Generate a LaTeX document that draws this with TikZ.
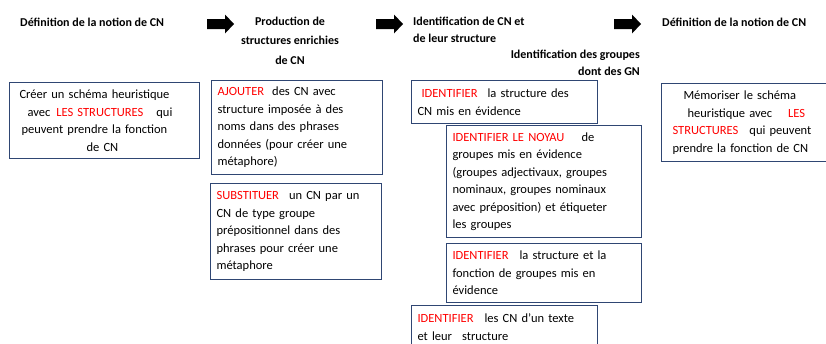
\documentclass[tikz,border=0pt]{standalone}
\usepackage{fontspec}
\setmainfont{Carlito}
\definecolor{boxblue}{RGB}{47,70,115}
\newcommand\redt[1]{\textcolor{red}{#1}}
\begin{document}
\begin{tikzpicture}[x=1pt,y=-1pt,
  box/.style={draw=boxblue, line width=1.1pt, anchor=north west, inner xsep=6pt, inner ysep=0pt, align=left,
    font=\fontsize{12.5}{17.5}\selectfont},
  head/.style={font=\bfseries\fontsize{12}{17}\selectfont, inner sep=0pt},
  blockarrow/.pic={\fill[black] (0,-5)--(18,-5)--(18,-9.5)--(27,0)--(18,9.5)--(18,5)--(0,5)--cycle;}]
\useasboundingbox (0,0) rectangle (826,343);

% headings
\node[head, anchor=base west] (h1) at (20,26) {Définition de la notion de CN};
\node[head, align=center, anchor=north, font=\bfseries\fontsize{12}{19.5}\selectfont] (h2) at (290,16.5) {Production de\\structures enrichies\\de CN};
\node[head, align=left, anchor=north west] (h3) at (413,16.5) {Identification de CN et\\de leur structure};
\node[head, align=right, anchor=north east] (h4) at (640,50) {Identification des groupes\\dont des GN};
\node[head, anchor=base west] (h5) at (662,26) {Définition de la notion de CN};

% arrows
\pic (a1) at (207,24) {blockarrow};
\pic (a2) at (376,24) {blockarrow};
\pic (a3) at (614,24) {blockarrow};

% boxes
\node[box, minimum width=190pt, minimum height=76pt, text width=178pt] (b1) at (9,82) {%
\hspace*{4pt}Créer un schéma heuristique\\
\hspace*{12pt}avec\hspace{6pt}\redt{LES STRUCTURES}\hspace{13pt}qui\\
\hspace*{6pt}peuvent prendre la fonction\\
\hspace*{71pt}de CN};

\node[box, minimum width=171pt, minimum height=94pt, text width=159pt] (aj) at (211,80) {%
\redt{AJOUTER}\hspace{8pt}des CN avec\\
structure imposée à des\\
noms dans des phrases\\
données (pour créer une\\
métaphore)};

\node[box, minimum width=171pt, minimum height=96pt, text width=159pt] (sub) at (210,183) {%
\redt{SUBSTITUER}\hspace{10pt}un CN par un\\
CN de type groupe\\
prépositionnel dans des\\
phrases pour créer une\\
métaphore};

\node[box, minimum width=186pt, minimum height=43pt, text width=174pt] (id1) at (411,80) {%
\hspace*{4pt}\redt{IDENTIFIER}\hspace{10pt}la structure des\\
CN mis en évidence};

\node[box, minimum width=195pt, minimum height=112pt, text width=183pt] (noy) at (446,125) {%
\redt{IDENTIFIER LE NOYAU}\hspace{17pt}de\\
groupes mis en évidence\\
(groupes adjectivaux, groupes\\
nominaux, groupes nominaux\\
avec préposition) et étiqueter\\
les groupes};

\node[box, minimum width=195pt, minimum height=59pt, text width=183pt] (id3) at (446,243) {%
\redt{IDENTIFIER}\hspace{11pt}la structure et la\\
fonction de groupes mis en\\
évidence};

\node[box, minimum width=186pt, minimum height=43pt, text width=174pt] (id4) at (411,305) {%
\redt{IDENTIFIER}\hspace{11pt}les CN d'un texte\\
et leur\hspace{10pt}structure};

\node[box, minimum width=164.5pt, minimum height=78pt, text width=152.5pt] (mem) at (661,83) {%
\hspace*{16pt}Mémoriser le schéma\\
\hspace*{20pt}heuristique avec\hspace{16pt}\redt{LES}\\
\hspace*{5pt}\redt{STRUCTURES}\hspace{11pt}qui peuvent\\
\hspace*{5pt}prendre la fonction de CN};
\end{tikzpicture}
\end{document}
